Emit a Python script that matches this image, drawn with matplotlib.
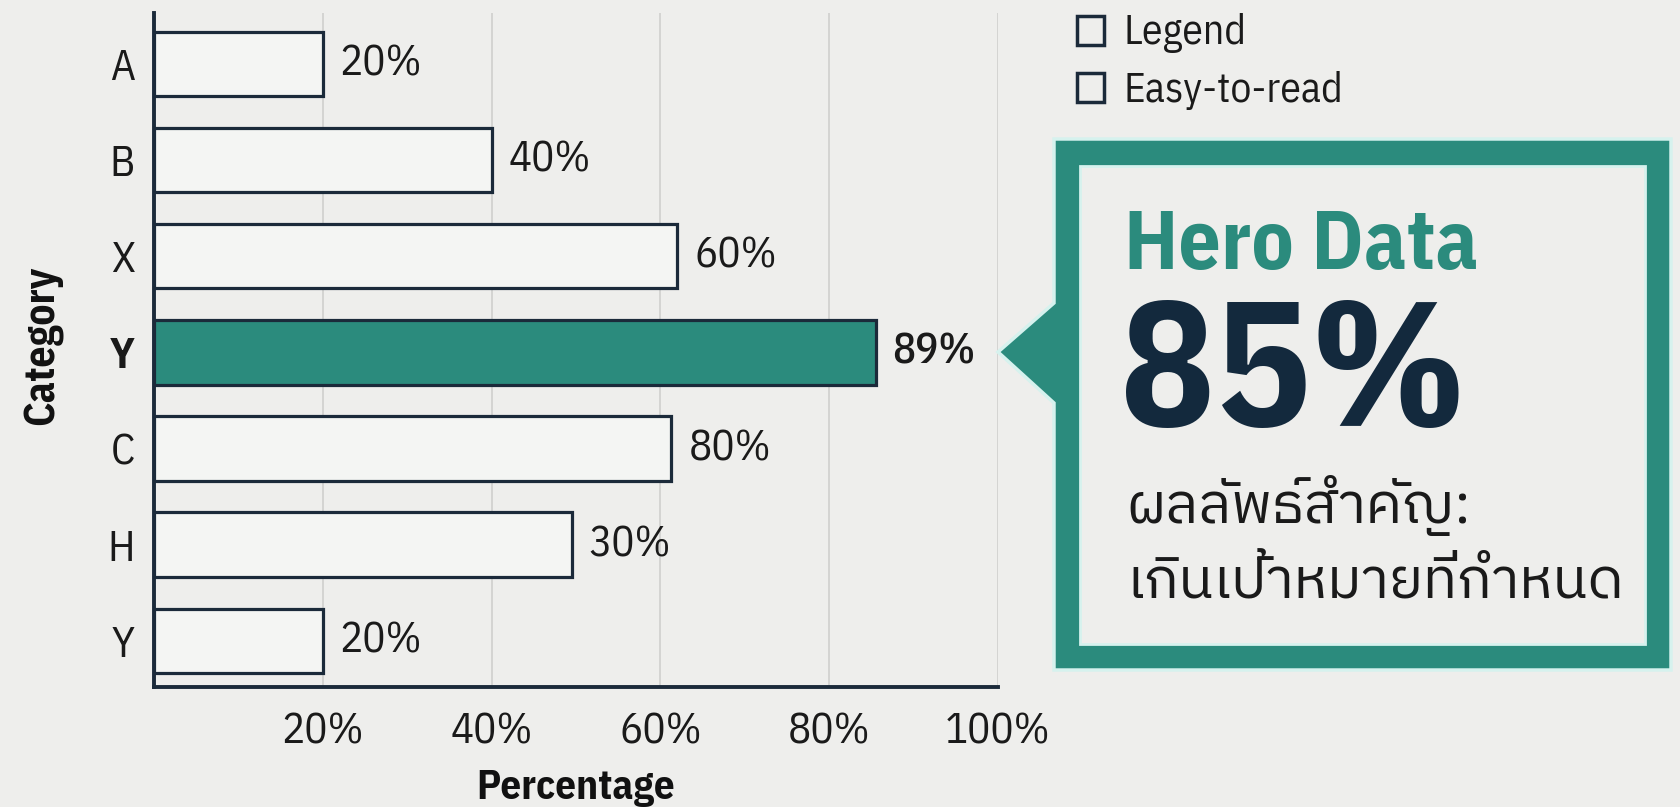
import matplotlib
matplotlib.use("Agg")
import matplotlib.pyplot as plt
from matplotlib.patches import Polygon, Rectangle

# data
categories = ["A", "B", "X", "Y", "C", "H", "Y"]
values = [20, 40, 62, 85.5, 61.3, 49.5, 20]
value_labels = ["20%", "40%", "60%", "89%", "80%", "30%", "20%"]
highlight = 3
xticks = [20, 40, 60, 80, 100]
xtick_labels = ["20%", "40%", "60%", "80%", "100%"]
legend_items = ["Legend", "Easy-to-read"]
hero_title = "Hero Data"
hero_value = "85%"
hero_text = ["ผลลัพธ์สำคัญ:", "เกินเป้าหมายที่กำหนด"]

BG = "#eeeeec"
BAR_FILL = "#f4f5f3"
NAVY = "#1b2a3a"
TEAL = "#2b8b7d"
HALO = "#d6f2ee"
GRID = "#cfcfcd"

plt.rcParams["font.family"] = ["IBM Plex Sans Condensed", "DejaVu Sans"]

W, H = 1681, 807
fig = plt.figure(figsize=(W / 100, H / 100), dpi=100, facecolor=BG)

# main bar chart
ax = fig.add_axes([154 / W, 1 - 687 / H, (998 - 154) / W, (687 - 13) / H])
ax.set_facecolor("none")
ypos = list(range(len(categories)))
colors = [TEAL if i == highlight else BAR_FILL for i in ypos]
ax.barh(ypos, values, height=0.67, color=colors, edgecolor=NAVY, linewidth=2.3, zorder=3)

for i, (v, lab) in enumerate(zip(values, value_labels)):
    ax.text(v + 2.0, i, lab, va="center", ha="left", fontsize=31, color="#1a1a1a",
            fontweight="medium" if i == highlight else "normal")

ax.set_xlim(0, 100)
ax.set_ylim(6.48, -0.53)
ax.set_xticks(xticks)
ax.set_xticklabels(xtick_labels)
ax.set_yticks(ypos)
ax.set_yticklabels(categories)
ax.tick_params(axis="both", length=0, labelsize=31, colors="#1a1a1a")
ax.tick_params(axis="x", pad=18)
ax.tick_params(axis="y", pad=14)
ax.get_yticklabels()[highlight].set_fontweight("bold")
ax.grid(axis="x", color=GRID, linewidth=1.2, zorder=0)
for s in ["top", "right"]:
    ax.spines[s].set_visible(False)
for s in ["left", "bottom"]:
    ax.spines[s].set_color(NAVY)
    ax.spines[s].set_linewidth(2.8)
    ax.spines[s].set_zorder(4)

fig.text(576 / W, 1 - 788 / H, "Percentage", ha="center", va="center",
         fontsize=29.5, fontweight="bold", color="#111111")
fig.text(43 / W, 1 - 345 / H, "Category", ha="center", va="center", rotation=90,
         fontsize=30, fontweight="bold", color="#111111")

# overlay in pixel coordinates for the legend and the callout
ov = fig.add_axes([0, 0, 1, 1], facecolor="none")
ov.set_xlim(0, W)
ov.set_ylim(H, 0)
ov.axis("off")

for k, item in enumerate(legend_items):
    y0 = 16 + k * 57
    ov.add_patch(Rectangle((1077, y0), 27, 29, facecolor="none", edgecolor=NAVY, linewidth=2.5))
    ov.text(1124, y0 + 17, item, ha="left", va="center", fontsize=30, color="#1a1a1a")

# callout frame with pointer
outer = [(998, 352), (1054, 303), (1054, 139), (1671, 139), (1671, 670), (1054, 670), (1054, 403)]
ov.add_patch(Polygon(outer, closed=True, facecolor=TEAL, edgecolor=HALO, linewidth=2.5, zorder=2))
ov.add_patch(Rectangle((1080, 166), 1645 - 1080, 644 - 166, facecolor=BG, edgecolor=HALO,
                       linewidth=2, zorder=3))

ov.text(1124, 269, hero_title, ha="left", va="baseline", fontsize=60, fontweight="bold",
        color=TEAL, zorder=4)
ov.text(1120, 426, hero_value, ha="left", va="baseline", fontsize=127, fontweight="bold",
        color="#13293d", zorder=4)
for k, line in enumerate(hero_text):
    ov.text(1126, 505 + k * 78, line, ha="left", va="center", fontsize=41,
            family=["IBM Plex Sans Thai", "IBM Plex Sans Condensed"], color="#1a1a1a", zorder=4)

fig.savefig("out.png", dpi=100, facecolor=BG)
